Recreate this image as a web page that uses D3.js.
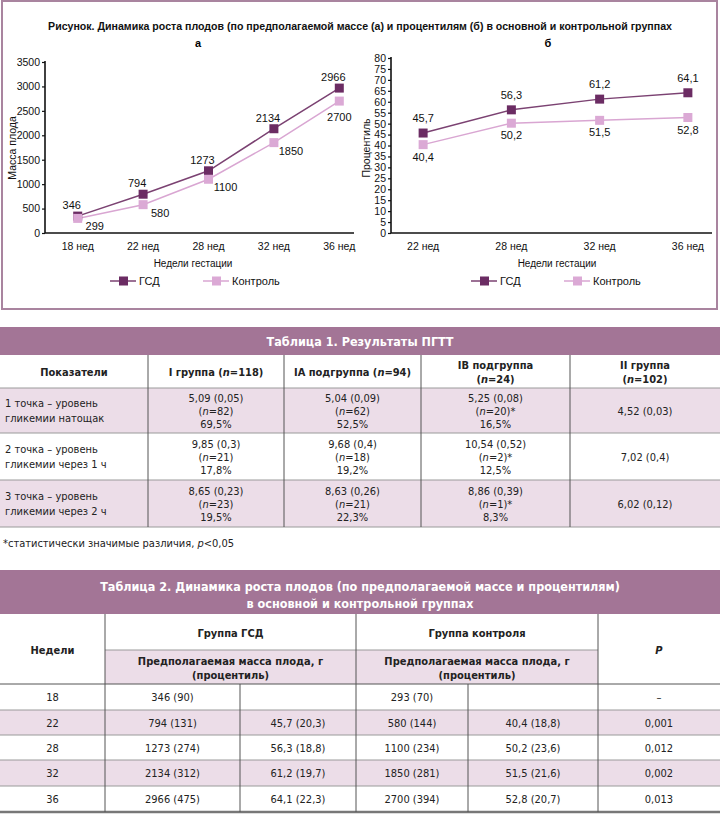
<!DOCTYPE html>
<html><head><meta charset="utf-8">
<script src="https://cdn.jsdelivr.net/npm/d3@7/dist/d3.min.js"></script>
<style>body{margin:0;background:#fff}svg{display:block}</style>
</head><body>
<svg id="c" width="720" height="817"></svg>
<script>
// ---------- DATA ----------
const figTitle = "Рисунок. Динамика роста плодов (по предполагаемой массе (а) и процентилям (б) в основной и контрольной группах";
const seriesNames = ["ГСД", "Контроль"];
const weeksA = ["18 нед", "22 нед", "28 нед", "32 нед", "36 нед"];
const massGSD = [346, 794, 1273, 2134, 2966];
const massCtrl = [299, 580, 1100, 1850, 2700];
const massTicks = [0, 500, 1000, 1500, 2000, 2500, 3000, 3500];
const weeksB = ["22 нед", "28 нед", "32 нед", "36 нед"];
const pctGSD = [45.7, 56.3, 61.2, 64.1];
const pctCtrl = [40.4, 50.2, 51.5, 52.8];
const pctTicks = [0, 5, 10, 15, 20, 25, 30, 35, 40, 45, 50, 55, 60, 65, 70, 75, 80];

const t1Title = "Таблица 1. Результаты ПГТТ";
const t1Head = [["Показатели"], ["I группа (n=118)"], ["IA подгруппа (n=94)"], ["IB подгруппа", "(n=24)"], ["II группа", "(n=102)"]];
const t1Rows = [
  [["1 точка – уровень", "гликемии натощак"], ["5,09 (0,05)", "(n=82)", "69,5%"], ["5,04 (0,09)", "(n=62)", "52,5%"], ["5,25 (0,08)", "(n=20)*", "16,5%"], ["4,52 (0,03)"]],
  [["2 точка – уровень", "гликемии через 1 ч"], ["9,85 (0,3)", "(n=21)", "17,8%"], ["9,68 (0,4)", "(n=18)", "19,2%"], ["10,54 (0,52)", "(n=2)*", "12,5%"], ["7,02 (0,4)"]],
  [["3 точка – уровень", "гликемии через 2 ч"], ["8,65 (0,23)", "(n=23)", "19,5%"], ["8,63 (0,26)", "(n=21)", "22,3%"], ["8,86 (0,39)", "(n=1)*", "8,3%"], ["6,02 (0,12)"]]
];
const t1Note = "*статистически значимые различия, p<0,05";

const t2Title = ["Таблица 2. Динамика роста плодов (по предполагаемой массе и процентилям)", "в основной и контрольной группах"];
const t2Groups = ["Группа ГСД", "Группа контроля"];
const t2Sub = ["Предполагаемая масса плода, г", "(процентиль)"];
const t2Weeks = ["18", "22", "28", "32", "36"];
const t2GsdMass = ["346 (90)", "794 (131)", "1273 (274)", "2134 (312)", "2966 (475)"];
const t2GsdPct = ["", "45,7 (20,3)", "56,3 (18,8)", "61,2 (19,7)", "64,1 (22,3)"];
const t2CtrlMass = ["293 (70)", "580 (144)", "1100 (234)", "1850 (281)", "2700 (394)"];
const t2CtrlPct = ["", "40,4 (18,8)", "50,2 (23,6)", "51,5 (21,6)", "52,8 (20,7)"];
const t2P = ["–", "0,001", "0,012", "0,002", "0,013"];

// ---------- STYLE ----------
const C = {dark: "#6b2c63", darkLine: "#7b4272", light: "#dba9d5", lightLine: "#d9a6d2",
  frame: "#a9849f", bar: "#a37596", pink: "#ecdde8", ink: "#222", grid: "#9a9a9a", rule: "#555"};
const FC = "'Liberation Sans', Arial, sans-serif";
const FT = "'Liberation Sans Narrow', 'DejaVu Sans Condensed', 'Roboto', sans-serif";
const svg = d3.select("#c");
const fmt = v => String(v).replace(".", ",");

function rich(sel, str) {
  str.split(/([np])(?=[=<])/).forEach(part => {
    if (!part) return;
    const ts = sel.append("tspan").text(part);
    if (/^[np]$/.test(part)) ts.attr("font-style", "italic");
  });
}
function lines(g, x, yc, arr, o) {
  const lh = o.lh || 13;
  const y0 = yc - (arr.length - 1) * lh / 2;
  arr.forEach((s, i) => {
    const t = g.append("text").attr("x", x).attr("y", y0 + i * lh)
      .attr("dominant-baseline", "central")
      .attr("text-anchor", o.anchor || "middle")
      .attr("font-family", o.family || FT).attr("font-size", o.size || 11)
      .attr("font-weight", o.weight || "normal").attr("fill", o.fill || C.ink);
    rich(t, s);
  });
}

// ---------- FIGURE ----------
svg.append("rect").attr("x", 2).attr("y", 1).attr("width", 715).attr("height", 308)
  .attr("fill", "#fff").attr("stroke", C.frame).attr("stroke-width", 2);
svg.append("text").attr("x", 360).attr("y", 26).attr("text-anchor", "middle")
  .attr("dominant-baseline", "central").attr("font-family", FC).attr("font-size", 10.6)
  .attr("font-weight", "bold").attr("fill", "#111").text(figTitle);

function chart(o) {
  const g = svg.append("g");
  const x = d3.scalePoint().domain(o.cats).range(o.xr).padding(0.5);
  const y = d3.scaleLinear().domain([0, o.ymax]).range([233, o.ytop]);
  g.append("text").attr("x", o.subX).attr("y", 43).attr("text-anchor", "middle")
    .attr("dominant-baseline", "central").attr("font-family", FC).attr("font-size", 11)
    .attr("font-weight", "bold").text(o.sub);
  const ya = g.append("g").attr("transform", `translate(${o.ax},0)`)
    .call(d3.axisLeft(y).tickValues(o.ticks).tickSize(3).tickPadding(2).tickFormat(d => d));
  ya.select(".domain").remove();
  ya.selectAll("text").attr("font-family", FC).attr("font-size", o.tickSize).attr("fill", "#111");
  ya.selectAll("line").attr("stroke", "#111").attr("stroke-width", 1.2);
  g.append("line").attr("x1", o.ax).attr("x2", o.ax).attr("y1", y(o.ymax) - 1).attr("y2", 233)
    .attr("stroke", "#111").attr("stroke-width", 1.6);
  g.append("line").attr("x1", o.ax).attr("x2", o.axEnd).attr("y1", 233).attr("y2", 233)
    .attr("stroke", "#111").attr("stroke-width", 1.6);
  g.selectAll(".xl").data(o.cats).join("text").attr("x", d => x(d)).attr("y", 246)
    .attr("text-anchor", "middle").attr("dominant-baseline", "central")
    .attr("font-family", FC).attr("font-size", 10.5).attr("fill", "#111").text(d => d);
  g.append("text").attr("x", o.xTitleX).attr("y", 263).attr("text-anchor", "middle")
    .attr("dominant-baseline", "central").attr("font-family", FC).attr("font-size", 10)
    .attr("fill", "#111").text("Недели гестации");
  g.append("text").attr("transform", `translate(${o.yTitleX},148) rotate(-90)`)
    .attr("text-anchor", "middle").attr("dominant-baseline", "central")
    .attr("font-family", FC).attr("font-size", 10.5).attr("fill", "#111").text(o.yTitle);
  const series = [
    {vals: o.gsd, col: C.dark, lc: C.darkLine, lab: o.labG},
    {vals: o.ctrl, col: C.light, lc: C.lightLine, lab: o.labC}
  ];
  series.slice().reverse().forEach(s => {
    const pts = s.vals.map((v, i) => [x(o.cats[i]), y(v)]);
    g.append("path").attr("d", d3.line()(pts)).attr("fill", "none")
      .attr("stroke", s.lc).attr("stroke-width", 1.5);
  });
  series.forEach(s => {
    const pts = s.vals.map((v, i) => [x(o.cats[i]), y(v), v, i]);
    g.selectAll(null).data(pts).join("rect").attr("x", d => d[0] - 4.5).attr("y", d => d[1] - 4.5)
      .attr("width", 9).attr("height", 9).attr("fill", s.col);
    g.selectAll(null).data(pts).join("text")
      .attr("x", d => d[0] + s.lab(d[3], pts.length)[0])
      .attr("y", d => d[1] + s.lab(d[3], pts.length)[1])
      .attr("text-anchor", "middle").attr("dominant-baseline", "central")
      .attr("font-family", FC).attr("font-size", 11).attr("fill", "#111")
      .text(d => fmt(d[2]));
  });
  const lg = [[o.legX[0], C.dark, C.darkLine, seriesNames[0]], [o.legX[1], C.light, C.lightLine, seriesNames[1]]];
  lg.forEach(([lx, col, lc, name]) => {
    g.append("line").attr("x1", lx).attr("x2", lx + 26).attr("y1", 281).attr("y2", 281)
      .attr("stroke", lc).attr("stroke-width", 1.5);
    g.append("rect").attr("x", lx + 9).attr("y", 276.5).attr("width", 9).attr("height", 9).attr("fill", col);
    g.append("text").attr("x", lx + 29).attr("y", 281).attr("dominant-baseline", "central")
      .attr("font-family", FC).attr("font-size", 11).attr("fill", "#111").text(name);
  });
}

chart({cats: weeksA, gsd: massGSD, ctrl: massCtrl, ymax: 3500, ytop: 62, ticks: massTicks,
  xr: [45, 372], ax: 45, axEnd: 354, sub: "а", subX: 198, tickSize: 10.5,
  xTitleX: 193, yTitleX: 12, yTitle: "Масса плода", legX: [110, 203],
  labG: () => [-6, -11], labC: (i, n) => i === n - 1 ? [0, 16] : [17, 8]});
chart({cats: weeksB, gsd: pctGSD, ctrl: pctCtrl, ymax: 80, ytop: 58, ticks: pctTicks,
  xr: [379, 732], ax: 391, axEnd: 712, sub: "б", subX: 548, tickSize: 10.5,
  xTitleX: 557, yTitleX: 366, yTitle: "Процентиль", legX: [471, 564],
  labG: () => [0, -15], labC: () => [0, 12]});

// ---------- TABLE 1 ----------
(function () {
  const g = svg.append("g");
  const xs = [0, 148, 284, 421, 570, 720];
  const ys = [355, 388, 433, 480, 527];
  g.append("rect").attr("x", 0).attr("y", 327).attr("width", 720).attr("height", 28).attr("fill", C.bar);
  lines(g, 360, 341, [t1Title], {size: 12.5, weight: "bold", fill: "#fff"});
  t1Rows.forEach((r, i) => {
    if (i % 2 === 0) g.append("rect").attr("x", 0).attr("y", ys[i + 1]).attr("width", 720)
      .attr("height", ys[i + 2] - ys[i + 1]).attr("fill", C.pink);
  });
  ys.slice(1).forEach(y => g.append("line").attr("x1", 0).attr("x2", 720).attr("y1", y).attr("y2", y)
    .attr("stroke", C.grid).attr("stroke-width", 1));
  xs.slice(1, -1).forEach(x => g.append("line").attr("x1", x).attr("x2", x).attr("y1", 355).attr("y2", 527)
    .attr("stroke", C.rule).attr("stroke-width", 1));
  t1Head.forEach((h, j) => lines(g, (xs[j] + xs[j + 1]) / 2, (ys[0] + ys[1]) / 2, h, {weight: "bold", lh: 14}));
  t1Rows.forEach((r, i) => {
    const yc = (ys[i + 1] + ys[i + 2]) / 2;
    r.forEach((cell, j) => {
      if (j === 0) lines(g, 5, yc, cell, {anchor: "start", lh: 15});
      else lines(g, (xs[j] + xs[j + 1]) / 2, yc, cell, {lh: 13});
    });
  });
  lines(g, 3, 543, [t1Note], {anchor: "start"});
})();

// ---------- TABLE 2 ----------
(function () {
  const g = svg.append("g");
  const xs = [0, 105, 240, 356, 468, 598, 720];
  const rowY = [684, 710, 735, 760, 786, 812];
  g.append("rect").attr("x", 0).attr("y", 570).attr("width", 720).attr("height", 44).attr("fill", C.bar);
  lines(g, 360, 594, t2Title, {size: 12.5, weight: "bold", fill: "#fff", lh: 17});
  g.append("rect").attr("x", xs[1]).attr("y", 650).attr("width", xs[5] - xs[1]).attr("height", 34).attr("fill", C.pink);
  t2Weeks.forEach((w, i) => {
    if (i % 2 === 1) g.append("rect").attr("x", 0).attr("y", rowY[i]).attr("width", 720)
      .attr("height", rowY[i + 1] - rowY[i]).attr("fill", C.pink);
  });
  g.append("line").attr("x1", xs[1]).attr("x2", xs[5]).attr("y1", 650).attr("y2", 650).attr("stroke", C.grid);
  g.append("line").attr("x1", 0).attr("x2", 720).attr("y1", 684).attr("y2", 684).attr("stroke", C.rule);
  rowY.slice(1, -1).forEach(y => g.append("line").attr("x1", 0).attr("x2", 720).attr("y1", y).attr("y2", y)
    .attr("stroke", C.grid));
  g.append("line").attr("x1", 0).attr("x2", 720).attr("y1", 812).attr("y2", 812)
    .attr("stroke", "#777").attr("stroke-width", 2.5);
  [1, 3, 5].forEach(k => g.append("line").attr("x1", xs[k]).attr("x2", xs[k]).attr("y1", 614).attr("y2", 812).attr("stroke", C.rule));
  [2, 4].forEach(k => g.append("line").attr("x1", xs[k]).attr("x2", xs[k]).attr("y1", 684).attr("y2", 812).attr("stroke", C.rule));
  lines(g, (xs[0] + xs[1]) / 2, 650, ["Недели"], {weight: "bold"});
  g.append("text").attr("x", (xs[5] + xs[6]) / 2).attr("y", 650).attr("text-anchor", "middle")
    .attr("dominant-baseline", "central").attr("font-family", FT).attr("font-size", 11)
    .attr("font-weight", "bold").attr("font-style", "italic").attr("fill", C.ink).text("P");
  lines(g, (xs[1] + xs[3]) / 2, 633, [t2Groups[0]], {weight: "bold"});
  lines(g, (xs[3] + xs[5]) / 2, 633, [t2Groups[1]], {weight: "bold"});
  lines(g, (xs[1] + xs[3]) / 2, 668, t2Sub, {weight: "bold", lh: 14});
  lines(g, (xs[3] + xs[5]) / 2, 668, t2Sub, {weight: "bold", lh: 14});
  const cols = [t2Weeks, t2GsdMass, t2GsdPct, t2CtrlMass, t2CtrlPct, t2P];
  cols.forEach((col, j) => col.forEach((v, i) => {
    if (v) lines(g, (xs[j] + xs[j + 1]) / 2, (rowY[i] + rowY[i + 1]) / 2, [v], {});
  }));
})();
</script>
</body></html>
